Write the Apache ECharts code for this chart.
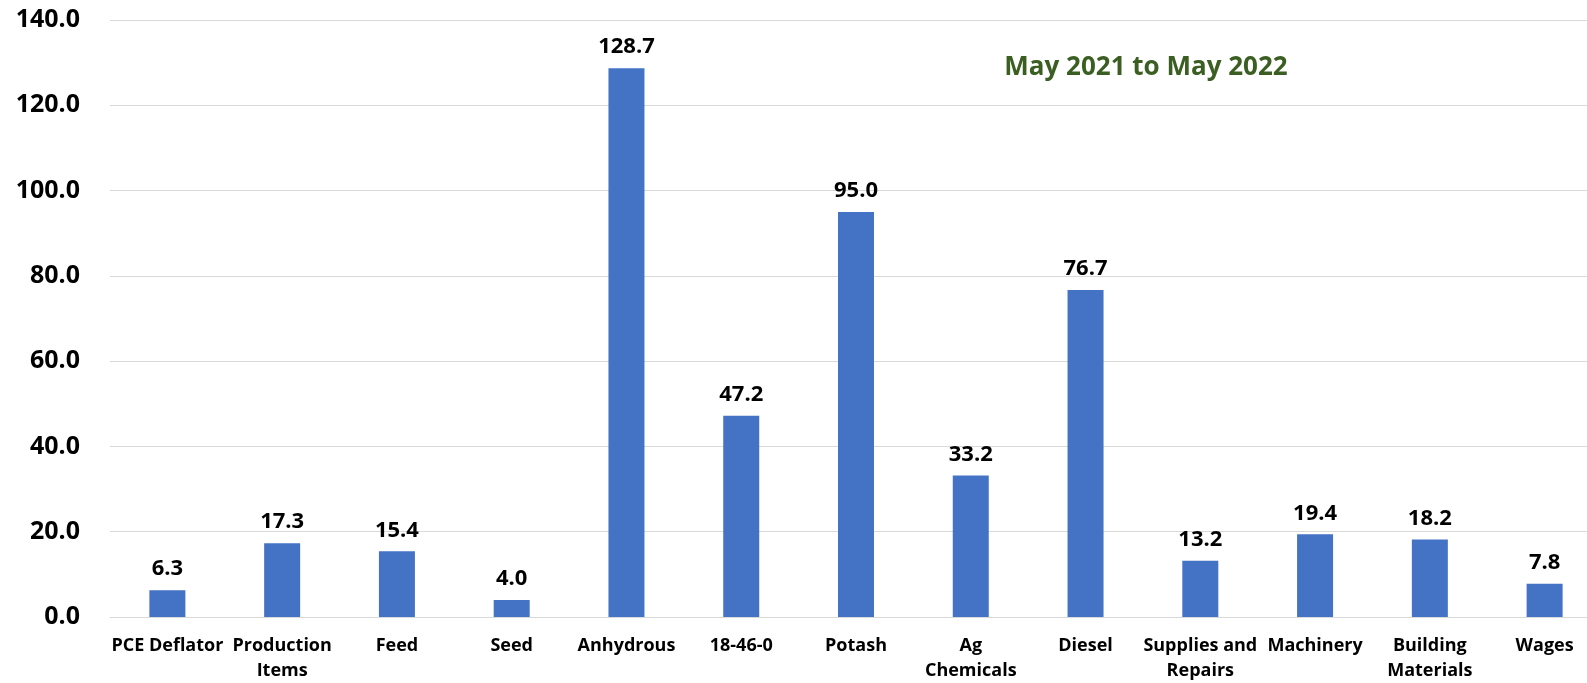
<!DOCTYPE html>
<html><head><meta charset="utf-8">
<script src="https://cdn.jsdelivr.net/npm/echarts@6/dist/echarts.min.js"></script>
<style>html,body{margin:0;padding:0;background:#fff;overflow:hidden}#c{width:1602px;height:683px}</style>
</head><body><div id="c"></div>
<script>
const categories = ["PCE Deflator","Production\nItems","Feed","Seed","Anhydrous","18-46-0","Potash","Ag\nChemicals","Diesel","Supplies and\nRepairs","Machinery","Building\nMaterials","Wages"];
const values = [6.3,17.3,15.4,4.0,128.7,47.2,95.0,33.2,76.7,13.2,19.4,18.2,7.8];
const yTicks = {min:0, max:140, interval:20};
const titleText = "May 2021 to May 2022";

const chart = echarts.init(document.getElementById('c'), null, {renderer:'canvas'});
const F = 'Open Sans';
chart.setOption({
  animation:false,
  backgroundColor:'#fff',
  title:{text:titleText, left:1141, top:63, textAlign:'center', textVerticalAlign:'middle',
    textStyle:{color:'#3B5E23', fontFamily:F, fontWeight:'bold', fontSize:26}},
  grid:{left:110, right:0, top:20, bottom:64, containLabel:false},
  xAxis:{type:'category', data:categories,
    axisLine:{lineStyle:{color:'#D9D9D9', width:1}}, axisTick:{show:false},
    axisLabel:{color:'#000', fontFamily:F, fontWeight:'bold', fontSize:18, lineHeight:25, margin:16, interval:0}},
  yAxis:{type:'value', min:yTicks.min, max:yTicks.max, interval:yTicks.interval,
    axisLine:{show:false}, axisTick:{show:false},
    splitLine:{lineStyle:{color:'#D9D9D9', width:1}},
    axisLabel:{color:'#000', fontFamily:F, fontWeight:'bold', fontSize:25, margin:30,
      formatter:v=>v.toFixed(1)}},
  series:[{type:'bar', data:values, barWidth:36, itemStyle:{color:'#4472C4'},
    label:{show:true, position:'top', distance:10, color:'#000', fontFamily:F, fontWeight:'bold', fontSize:22,
      formatter:p=>p.value.toFixed(1)}}]
});
</script></body></html>
